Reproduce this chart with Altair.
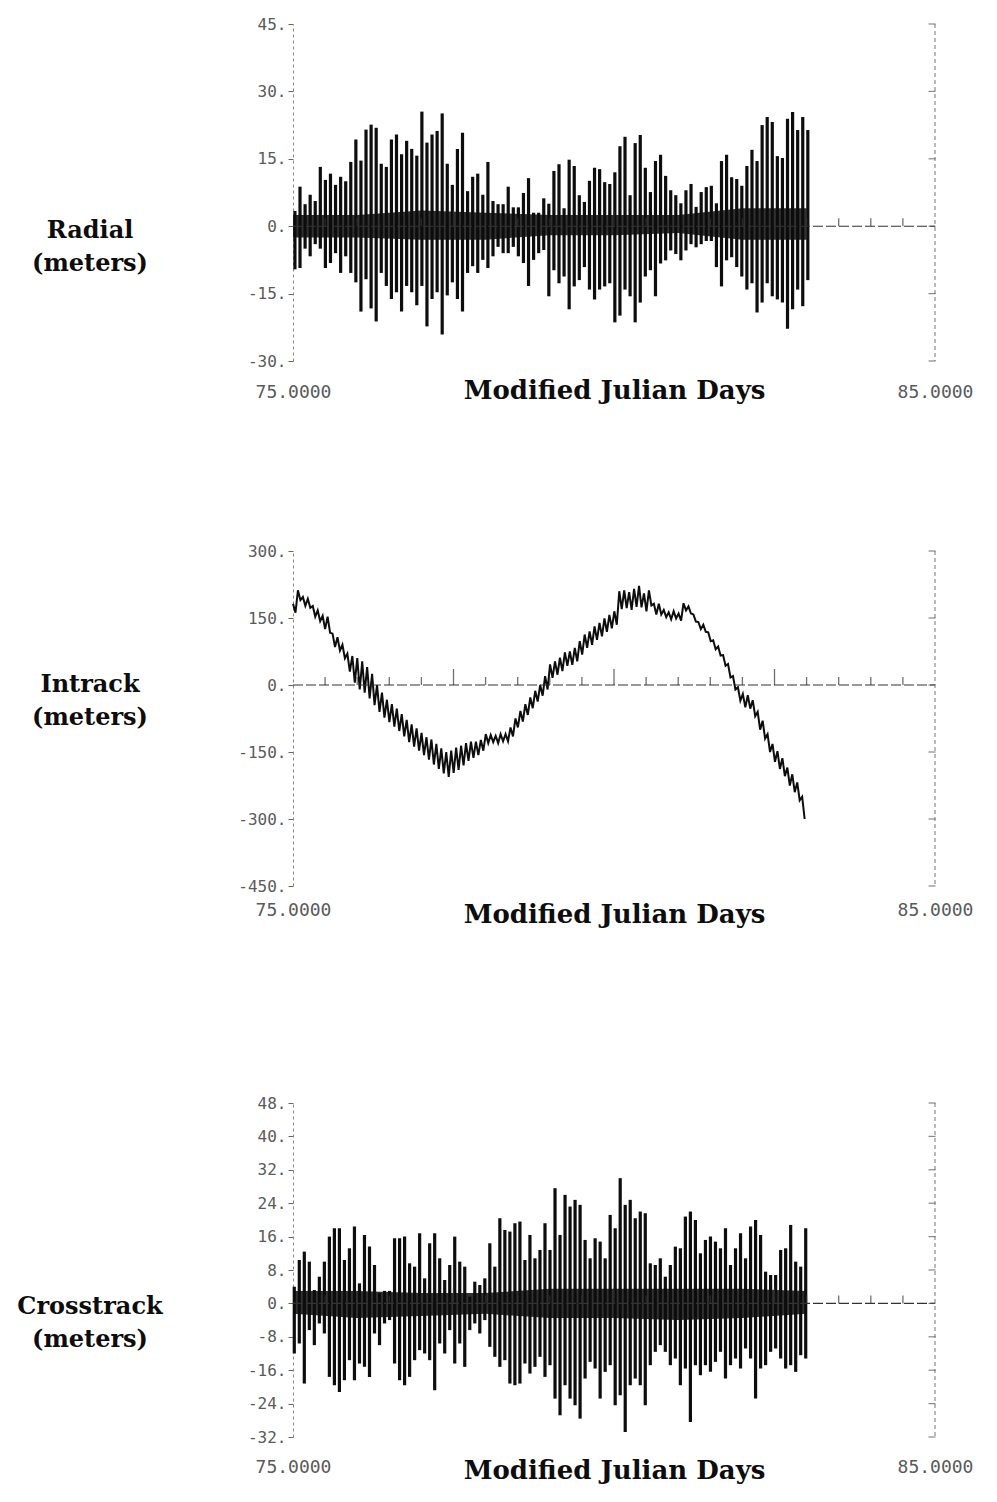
import altair as alt
import pandas as pd

# ---------------- data ----------------
# Radial: spike tops / bottoms (meters), one pair per orbit
radial_start = 75.03
radial_step = 0.0791
radial_hi = [3.4, 8.8, 4.9, 7, 5.6, 13.2, 10.3, 11.7, 9.2, 11, 10, 14.3, 19.3, 14.6, 21.5, 22.6, 21.9,
             13.9, 13.2, 19.3, 20.4, 16, 19, 17.2, 15.7, 25.5, 18.6, 20.4, 21.2, 25.1, 13.9, 9.2, 17.2,
             20.8, 7.8, 11, 11.7, 7, 14.3, 5.6, 4.9, 4.9, 8.8, 4.2, 4.2, 7.4, 10.7, 3, 3, 6.2,
             5, 12.3, 13.8, 4, 14.8, 13.4, 6.9, 5.4, 10.1, 13, 12.7, 9.8, 9.4, 12, 17.8, 19.9, 6.9,
             18.5, 20.3, 13, 7.6, 14.5, 15.9, 11.2, 8, 6.9, 5.1, 8, 9.4, 4.3, 7.6, 8.7, 9, 5.1, 14.5,
             15.9, 10.9, 10.5, 9, 13.4, 17, 14.5, 22.5, 24.3, 23.2, 15.6, 15.2, 23.9, 25.4, 21.4, 24.3, 21.4]
radial_lo = [-9.6, -9.3, -5, -6.7, -4, -5, -9.3, -8.2, -6, -10.4, -6.7, -10.4, -12.5, -19, -11.8, -18.3,
             -21.2, -10.4, -13.3, -16.2, -14.7, -19, -13.3, -14.7, -17.6, -13.3, -22.3, -16.2, -14.7,
             -24.1, -15.4, -12.5, -16.2, -19, -10.4, -8.9, -10.4, -7.5, -9.3, -6.7, -4.6, -6, -6, -4.6,
             -6.7, -8.2, -13.3, -7.5, -6, -5.3,
             -15.6, -9.8, -12.7, -11.2, -18.5, -13.4, -12, -9.1, -14.1, -16.3, -14.1, -13.4, -12.7,
             -21.4, -19.9, -14.1, -15.6, -21.4, -17, -11.2, -9.8, -15.6, -8.3, -7.6, -5.4, -6.2, -7.6,
             -5.4, -4, -4.7, -4, -3.3, -3.3, -9.1, -13.4, -7.6, -6.9, -9.1, -11.2, -14.1, -12.7, -19.2,
             -17, -12.7, -15.6, -16.3, -17, -22.8, -18.5, -14.1, -17.8, -12]
band_days = [75, 76, 77, 78, 79, 80, 81, 82, 83]
radial_band_hi = [2.5, 2.5, 3.5, 3, 2.5, 2.5, 2.5, 4, 4]
radial_band_lo = [-2.5, -2.5, -3, -3, -2, -2, -1.5, -3, -3]

# Intrack: upper / lower excursions of the oscillating curve (meters)
intrack_start = 75.0
intrack_step = 0.077
intrack_hi = [182, 212, 197, 193, 177, 167, 155, 153, 115, 107, 90, 70, 65, 60, 53, 40, 25, 0, -17, -33,
              -43, -53, -65, -78, -88, -97, -107, -117, -122, -132, -142, -150, -147, -140, -136, -130,
              -127, -127, -123, -110, -112, -114, -110, -110, -95, -75, -58, -43, -28, -13, 0, 20,
              46, 53, 61, 73, 75, 83, 98, 113, 120, 131, 139, 149, 157, 165, 210, 212, 208, 215, 222,
              205, 212, 182, 182, 168, 163, 165, 160, 183, 176, 158, 141, 135, 118, 100, 86, 67, 47, 20,
              -5, -20, -23, -34, -60, -80, -110, -132, -148, -164, -185, -200, -218, -250]
intrack_lo = [162, 190, 177, 173, 153, 143, 125, 117, 85, 77, 60, 30, 5, -10, -17, -30, -45, -60, -73, -83,
              -93, -103, -115, -128, -138, -147, -157, -167, -178, -188, -198, -206, -197, -190, -180,
              -170, -163, -157, -147, -130, -128, -130, -126, -126, -115, -95, -82, -67, -52, -37, -24, -10,
              16, 23, 31, 43, 45, 53, 68, 83, 90, 101, 109, 119, 127, 135, 170, 172, 168, 175, 174,
              165, 178, 158, 158, 152, 147, 149, 144, 167, 160, 142, 125, 119, 98, 80, 66, 43, 17, -10,
              -35, -50, -53, -70, -100, -120, -150, -172, -188, -204, -225, -240, -258, -300]

# Crosstrack: spike tops / bottoms (meters)
cross_start = 75.02
cross_step = 0.0781
cross_hi = [4, 10.4, 12.4, 10, 3.2, 6.4, 10, 16, 18, 18, 10.4, 13.2, 18.4, 4.8, 16.4, 13.6, 9.2, 2.5, 3, 3,
            15.6, 15.6, 16, 9.6, 8.8, 16.8, 6, 14.4, 16.8, 10.8, 5.6, 9.2, 16, 10, 8.8, 1.6, 5.2, 4.4, 6,
            14.4, 8.8, 20.4, 17.6, 17.2, 19.2, 19.6, 10.4, 16.4, 10.8, 12.8, 19.2,
            12.8, 27.6, 16.4, 26, 23.2, 24.8, 23.6, 15.2, 10.8, 15.6, 14.8, 10.8, 21.2, 18, 30, 23.6,
            24.8, 20.4, 22, 21.6, 9.6, 9.2, 10.8, 6.4, 9.2, 13.6, 13.2, 20.8, 22, 20, 12, 15.2, 16,
            14.8, 13.2, 18, 9.2, 13.2, 16.8, 10.8, 18.4, 20, 16.4, 7.6, 6.8, 6.8, 12.8, 13.2, 18.8, 10,
            8.8, 18]
cross_lo = [-12, -9.6, -19.2, -6.4, -10, -4.8, -7.2, -17.6, -19.6, -21.2, -18.4, -13.6, -18.4, -14.4,
            -15.2, -17.6, -7.2, -10, -4.8, -4, -14.4, -18.4, -19.6, -17.6, -13.6, -11.2, -12, -13.6,
            -20.8, -9.6, -12, -6.4, -14.4, -9.6, -15.2, -6.4, -4.8, -7.2, -4, -10.4, -12.8, -15.2,
            -13.6, -19.2, -19.6, -19.2, -14.4, -16.8, -15.2, -12.8, -17.6,
            -14.8, -22.8, -26.8, -19.6, -22.8, -24.4, -27.6, -18, -14, -15.6, -22.8, -16.4, -14.8,
            -24.4, -22, -30.8, -19.6, -18, -19.6, -24.4, -14.8, -11.6, -10, -11.6, -14.8, -13.2,
            -19.6, -15.6, -28.4, -14.8, -17.2, -14.8, -16.4, -14, -11.6, -18, -14.8, -13.2, -15.6,
            -10.8, -13.2, -22.8, -15.6, -14.8, -11.6, -10.8, -13.2, -15.6, -14.8, -16.4, -12.4, -13.2]
cross_band_hi = [3, 3, 2.5, 2.5, 3.5, 3.5, 3.5, 3.5, 3]
cross_band_lo = [-2.5, -3.5, -3, -2.5, -3.5, -3.5, -4, -3.5, -2.5]

# axes
radial_ticks = [-30, -15, 0, 15, 30, 45]
intrack_ticks = [-450, -300, -150, 0, 150, 300]
cross_ticks = [-32, -24, -16, -8, 0, 8, 16, 24, 32, 40, 48]
minor_days = [75.5, 76, 76.5, 77, 78, 78.5, 79, 79.5, 80.5, 81, 81.5, 82, 83, 83.5, 84, 84.5]
major_days = [77.5, 80, 82.5]
x_ends = [75, 85]

W = 642
INK = "#0d0d0d"
GREY = "#5a5a5a"


def spikes_df(start, step, hi, lo):
    n = min(len(hi), len(lo))
    return pd.DataFrame({"day": [start + i * step for i in range(n)],
                         "hi": hi[:n], "lo": lo[:n]})


def zigzag_df(start, step, hi, lo):
    days, vals = [], []
    for i in range(min(len(hi), len(lo))):
        days += [start + i * step, start + (i + 0.5) * step]
        vals += [hi[i], lo[i]]
    return pd.DataFrame({"day": days, "v": vals})


def panel(label, H, ydom, yticks, label_pad, title_y, label_y, data_layer_fn, band=None):
    xs = alt.Scale(domain=[75, 85], nice=False, zero=False)
    ys = alt.Scale(domain=ydom, nice=False, zero=False)
    xaxis = alt.Axis(values=x_ends, format=".4f", title="Modified Julian Days",
                     labelFont="DejaVu Sans Mono", labelFontSize=18, labelColor=GREY,
                     labelPadding=label_pad, labelFlush=False, ticks=False, domain=False, grid=False,
                     titleFont="DejaVu Serif", titleFontSize=26, titleFontWeight="bold",
                     titleColor=INK, titleY=title_y, titleBaseline="alphabetic")
    yaxis = alt.Axis(values=yticks, labelExpr="datum.value + '.'", title="",
                     labelFont="DejaVu Sans Mono", labelFontSize=16, labelColor=GREY,
                     domainColor="#888", domainDash=[3, 3], tickColor="#666", tickSize=5,
                     labelPadding=2, grid=False)
    X = lambda f: alt.X(f, scale=xs, axis=xaxis)
    Y = lambda f: alt.Y(f, scale=ys, axis=yaxis)
    dummy = pd.DataFrame({"a": [0]})
    hidden = alt.Chart(dummy).mark_rule(opacity=0, color="white").encode(
        x=alt.value(-285), x2=alt.value(-285), y=alt.value(-16), y2=alt.value(H + 50))
    layers = [hidden, data_layer_fn(X, Y)]
    if band is not None:
        bdf = pd.DataFrame({"day": band_days, "bh": band[0], "bl": band[1]})
        layers.append(alt.Chart(bdf).mark_area(color=INK, opacity=0.85).encode(
            x=X("day:Q"), y=Y("bl:Q"), y2="bh:Q"))
    zdf = pd.DataFrame({"day": [75, 85], "z": [0, 0]})
    layers.append(alt.Chart(zdf).mark_line(color="#333", strokeWidth=1.1, strokeDash=[10, 3]).encode(
        x=X("day:Q"), y=Y("z:Q")))
    mdf = pd.DataFrame({"day": minor_days, "z": [0] * len(minor_days)})
    layers.append(alt.Chart(mdf).mark_tick(orient="vertical", size=8, thickness=1.3, yOffset=-4,
                                           color="#333").encode(x=X("day:Q"), y=Y("z:Q")))
    Mdf = pd.DataFrame({"day": major_days, "z": [0] * len(major_days)})
    layers.append(alt.Chart(Mdf).mark_tick(orient="vertical", size=16, thickness=1.3, yOffset=-8,
                                           color="#333").encode(x=X("day:Q"), y=Y("z:Q")))
    layers.append(alt.Chart(dummy).mark_rule(color="#777", strokeWidth=1, strokeDash=[4, 3]).encode(
        x=alt.value(W), x2=alt.value(W), y=alt.value(0), y2=alt.value(H)))
    tdf = pd.DataFrame({"v": yticks})
    layers.append(alt.Chart(tdf).mark_tick(orient="horizontal", size=7, thickness=1.2,
                                           color="#555").encode(y=Y("v:Q"), x=alt.value(W - 3)))
    layers.append(alt.Chart(dummy).mark_text(
        text=label, font="DejaVu Serif", fontSize=24, fontWeight="bold", color=INK,
        align="center", baseline="middle", lineHeight=33).encode(
        x=alt.value(-203), y=alt.value(label_y)))
    return alt.layer(*layers).properties(width=W, height=H)


def spike_layer(df):
    def fn(X, Y):
        return alt.Chart(df).mark_rule(color=INK, strokeWidth=3.2).encode(
            x=X("day:Q"), y=Y("lo:Q"), y2="hi:Q")
    return fn


def line_layer(df):
    def fn(X, Y):
        return alt.Chart(df).mark_line(color=INK, strokeWidth=2).encode(
            x=X("day:Q"), y=Y("v:Q"))
    return fn


p1 = panel(["Radial", "(meters)"], 337, [-30, 45], radial_ticks, 22, 37, 207,
           spike_layer(spikes_df(radial_start, radial_step, radial_hi, radial_lo)),
           band=(radial_band_hi, radial_band_lo))
p2 = panel(["Intrack", "(meters)"], 335, [-450, 300], intrack_ticks, 15, 36, 134,
           line_layer(zigzag_df(intrack_start, intrack_step, intrack_hi, intrack_lo)))
p3 = panel(["Crosstrack", "(meters)"], 334, [-32, 48], cross_ticks, 21, 41, 204,
           spike_layer(spikes_df(cross_start, cross_step, cross_hi, cross_lo)),
           band=(cross_band_hi, cross_band_lo))

chart = alt.vconcat(alt.vconcat(p1, p2, spacing=124), p3, spacing=151).properties(
    padding={"left": 0, "top": 0, "right": 0, "bottom": 0},
    background="white"
).configure_view(stroke=None)

chart.save("out.html", embed_options={"renderer": "svg", "actions": False})
